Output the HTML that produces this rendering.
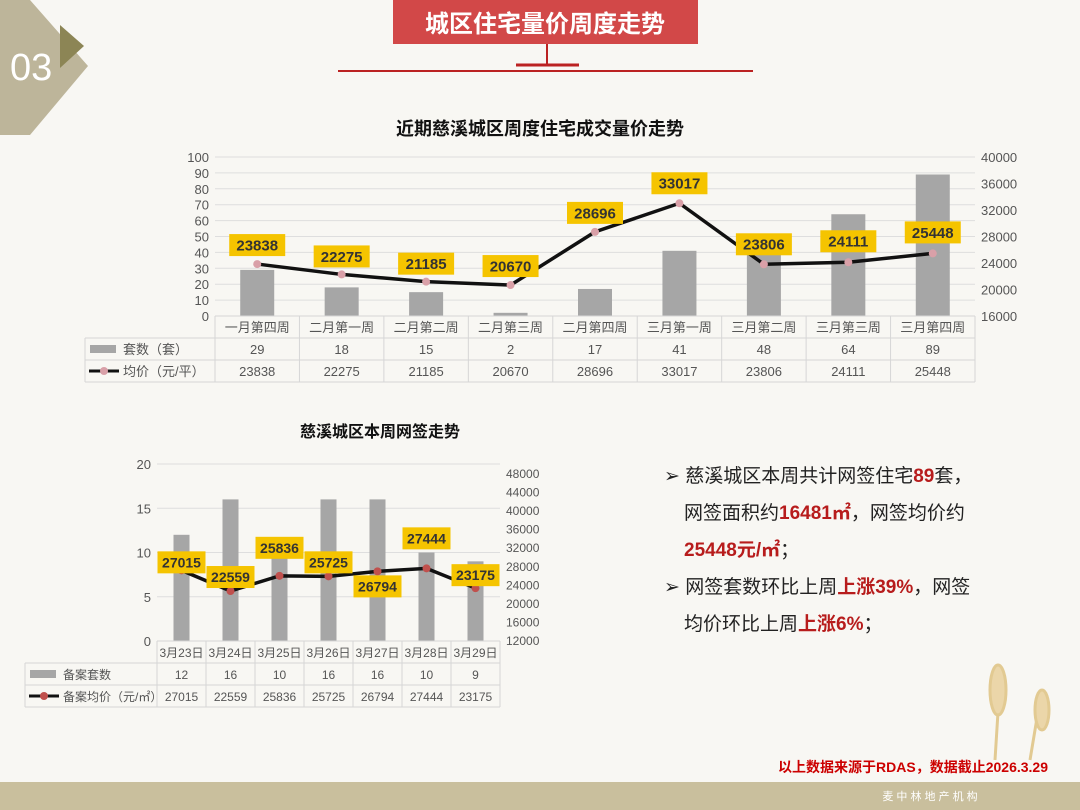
<!DOCTYPE html>
<html><head><meta charset="utf-8"><style>
body{margin:0;width:1080px;height:810px;background:#f8f7f3;font-family:"Liberation Sans","Noto Sans CJK SC",sans-serif;overflow:hidden;position:relative}
.abs{position:absolute}
</style></head><body>
<svg class="abs" style="left:0;top:0" width="1080" height="810">
 <polygon points="0,0 30,0 88,66 30,135 0,135" fill="#bdb59a"/>
 <polygon points="60,25 84,46 60,68" fill="#8c8555"/>
 <text x="10" y="80" font-size="38" fill="#fff" font-family="Liberation Sans">03</text>
 <rect x="393" y="0" width="305" height="44" fill="#d24848"/>
 <text x="545" y="32" font-size="24" font-weight="bold" fill="#fff" text-anchor="middle" font-family="Liberation Sans,Noto Sans CJK SC,sans-serif">城区住宅量价周度走势</text>
 <line x1="547" y1="44" x2="547" y2="66" stroke="#b22" stroke-width="2"/>
 <line x1="516" y1="65" x2="579" y2="65" stroke="#b22" stroke-width="3"/>
 <line x1="338" y1="71" x2="753" y2="71" stroke="#b22" stroke-width="2"/>
 <rect x="0" y="782" width="1080" height="28" fill="#c9bf9d"/>
 <text x="930" y="800" font-size="11" fill="#fff" text-anchor="middle" font-family="Liberation Sans,Noto Sans CJK SC,sans-serif">麦 中 林 地 产 机 构</text>
 <text x="1048" y="772" font-size="14" font-weight="bold" fill="#c00" text-anchor="end" font-family="Liberation Sans,Noto Sans CJK SC,sans-serif">以上数据来源于RDAS，数据截止2026.3.29</text>
 <g stroke="#d9b76a" stroke-width="3" fill="#e6c98a" opacity="0.7">
  <line x1="995" y1="760" x2="1000" y2="680"/><ellipse cx="998" cy="690" rx="8" ry="25"/>
  <line x1="1030" y1="760" x2="1040" y2="700"/><ellipse cx="1042" cy="710" rx="7" ry="20"/>
 </g>
</svg>

<div class="abs" style="left:0;top:115px;width:1080px;text-align:center;font-size:18px;font-weight:bold;color:#111">近期慈溪城区周度住宅成交量价走势</div>
<div class="abs" style="left:150px;top:418px;width:460px;text-align:center;font-size:16px;font-weight:bold;color:#111">慈溪城区本周网签走势</div>

<svg class="abs" id="c1" style="left:0;top:0" width="1080" height="400"></svg>
<svg class="abs" id="c2" style="left:0;top:0" width="640" height="720"></svg>

<div class="abs" style="left:664px;top:458px;width:390px;font-size:19px;line-height:37px;color:#222">
<div>➢ 慈溪城区本周共计网签住宅<b style="color:#b71c1c">89</b>套，</div>
<div style="padding-left:20px">网签面积约<b style="color:#b71c1c">16481㎡</b>，网签均价约</div>
<div style="padding-left:20px"><b style="color:#b71c1c">25448元/㎡</b>；</div>
<div>➢ 网签套数环比上周<b style="color:#b71c1c">上涨39%</b>，网签</div>
<div style="padding-left:20px">均价环比上周<b style="color:#b71c1c">上涨6%</b>；</div>
</div>

<script>
const cats1=["一月第四周","二月第一周","二月第二周","二月第三周","二月第四周","三月第一周","三月第二周","三月第三周","三月第四周"];
const units1=[29,18,15,2,17,41,48,64,89];
const price1=[23838,22275,21185,20670,28696,33017,23806,24111,25448];
const leftTicks1=[0,10,20,30,40,50,60,70,80,90,100];
const rightTicks1=[16000,20000,24000,28000,32000,36000,40000];
const cats2=["3月23日","3月24日","3月25日","3月26日","3月27日","3月28日","3月29日"];
const units2=[12,16,10,16,16,10,9];
const price2=[27015,22559,25836,25725,26794,27444,23175];
const leftTicks2=[0,5,10,15,20];
const rightTicks2=[12000,16000,20000,24000,28000,32000,36000,40000,44000,48000];
const NS="http://www.w3.org/2000/svg";
function mk(svg,tag,attrs,text){const e=document.createElementNS(NS,tag);for(const k in attrs)e.setAttribute(k,attrs[k]);if(text!==undefined)e.textContent=text;svg.appendChild(e);return e;}
const F='Liberation Sans,Noto Sans CJK SC,sans-serif';

function chart(o){
 const s=document.getElementById(o.id);
 const n=o.cats.length,cw=(o.x1-o.x0)/n;
 const xc=i=>o.x0+cw*(i+.5);
 const yL=v=>o.yb-(v-o.lmin)/(o.lmax-o.lmin)*(o.yb-o.yt);
 const yR=v=>o.rb-(v-o.rmin)/(o.rmax-o.rmin)*(o.rb-o.rt);
 o.lt.forEach(t=>{if(t>0){const g=mk(s,'line',{x1:o.x0,x2:o.x1,y1:yL(t),y2:yL(t),stroke:'#dedede'});}
  const l=mk(s,'text',{x:o.x0-6,y:yL(t)+5,'font-size':o.fs,fill:'#555','text-anchor':'end','font-family':F},t);
  });
 o.rt2.forEach(t=>{const l=mk(s,'text',{x:o.x1+6,y:yR(t)+5,'font-size':o.fs2,fill:'#555','font-family':F},t);
  });
 o.units.forEach((v,i)=>{const b=mk(s,'rect',{x:xc(i)-o.bw/2,y:yL(v),width:o.bw,height:o.yb-yL(v),fill:'#a6a6a6'});
  });
 const pts=o.price.map((v,i)=>xc(i)+','+yR(v)).join(' ');
 const pl=mk(s,'polyline',{points:pts,fill:'none',stroke:'#111','stroke-width':3.5});
 
 o.price.forEach((v,i)=>{const c=mk(s,'circle',{cx:xc(i),cy:yR(v),r:4,fill:o.dot});
  });
 o.price.forEach((v,i)=>{const dy=o.off[i];const y=yR(v)+dy;
  const r=mk(s,'rect',{x:xc(i)-o.lw/2,y:y-o.lh/2,width:o.lw,height:o.lh,fill:'#f5c400'});
  
  const t=mk(s,'text',{x:xc(i),y:y+o.lfs*0.36,'font-size':o.lfs,'font-weight':'bold',fill:'#333','text-anchor':'middle','font-family':F},v);
  });
 const rh=o.rh,tb=o.yb;
 const gr='#d6d6d6';
 mk(s,'line',{x1:o.x0,x2:o.x1,y1:tb,y2:tb,stroke:gr});
 mk(s,'line',{x1:o.tx,x2:o.x1,y1:tb+rh,y2:tb+rh,stroke:gr});
 mk(s,'line',{x1:o.tx,x2:o.x1,y1:tb+2*rh,y2:tb+2*rh,stroke:gr});
 mk(s,'line',{x1:o.tx,x2:o.x1,y1:tb+3*rh,y2:tb+3*rh,stroke:gr});
 mk(s,'line',{x1:o.tx,x2:o.tx,y1:tb+rh,y2:tb+3*rh,stroke:gr});
 for(let i=0;i<=n;i++)mk(s,'line',{x1:o.x0+cw*i,x2:o.x0+cw*i,y1:tb,y2:tb+3*rh,stroke:gr});
 o.cats.forEach((c,i)=>{
  const a=mk(s,'text',{x:xc(i),y:tb+rh*.5+5,'font-size':o.tfs,fill:'#555','text-anchor':'middle','font-family':F},c);
  const b=mk(s,'text',{x:xc(i),y:tb+rh*1.5+5,'font-size':o.tfs,fill:'#555','text-anchor':'middle','font-family':F},o.units[i]);
  const d=mk(s,'text',{x:xc(i),y:tb+rh*2.5+5,'font-size':o.tfs,fill:'#555','text-anchor':'middle','font-family':F},o.price[i]);});
 mk(s,'rect',{x:o.tx+5,y:tb+rh*1.5-4,width:26,height:8,fill:'#a6a6a6'});
 mk(s,'line',{x1:o.tx+4,x2:o.tx+34,y1:tb+rh*2.5,y2:tb+rh*2.5,stroke:'#111','stroke-width':3});
 mk(s,'circle',{cx:o.tx+19,cy:tb+rh*2.5,r:4,fill:o.dot});
 const l1=mk(s,'text',{x:o.tx+38,y:tb+rh*1.5+5,'font-size':o.tfs,fill:'#555','font-family':F},o.n1);
 const l2=mk(s,'text',{x:o.tx+38,y:tb+rh*2.5+5,'font-size':o.tfs,fill:'#555','font-family':F},o.n2);
}
chart({id:'c1',cats:cats1,units:units1,price:price1,lt:leftTicks1,rt2:rightTicks1,x0:215,x1:975,yt:157,yb:316,lmin:0,lmax:100,rmin:16000,rmax:40000,rb:316,rt:157,
 bw:34,fs:13,fs2:13,tfs:13,dot:'#d9a0a8',lw:56,lh:22,lfs:15,off:[-19,-18,-18,-19,-19,-20,-20,-21,-21],rh:22,tx:85,n1:'套数（套）',n2:'均价（元/平）'});
chart({id:'c2',cats:cats2,units:units2,price:price2,lt:leftTicks2,rt2:rightTicks2,x0:157,x1:500,yt:464,yb:641,lmin:0,lmax:20,rmin:12000,rmax:48000,rb:640,rt:473,
 bw:16,fs:13,fs2:12,tfs:12,dot:'#c0504d',lw:48,lh:22,lfs:14,off:[-8,-14,-28,-14,15,-30,-13],rh:22,tx:25,n1:'备案套数',n2:'备案均价（元/㎡）'});
</script>
</body></html>
